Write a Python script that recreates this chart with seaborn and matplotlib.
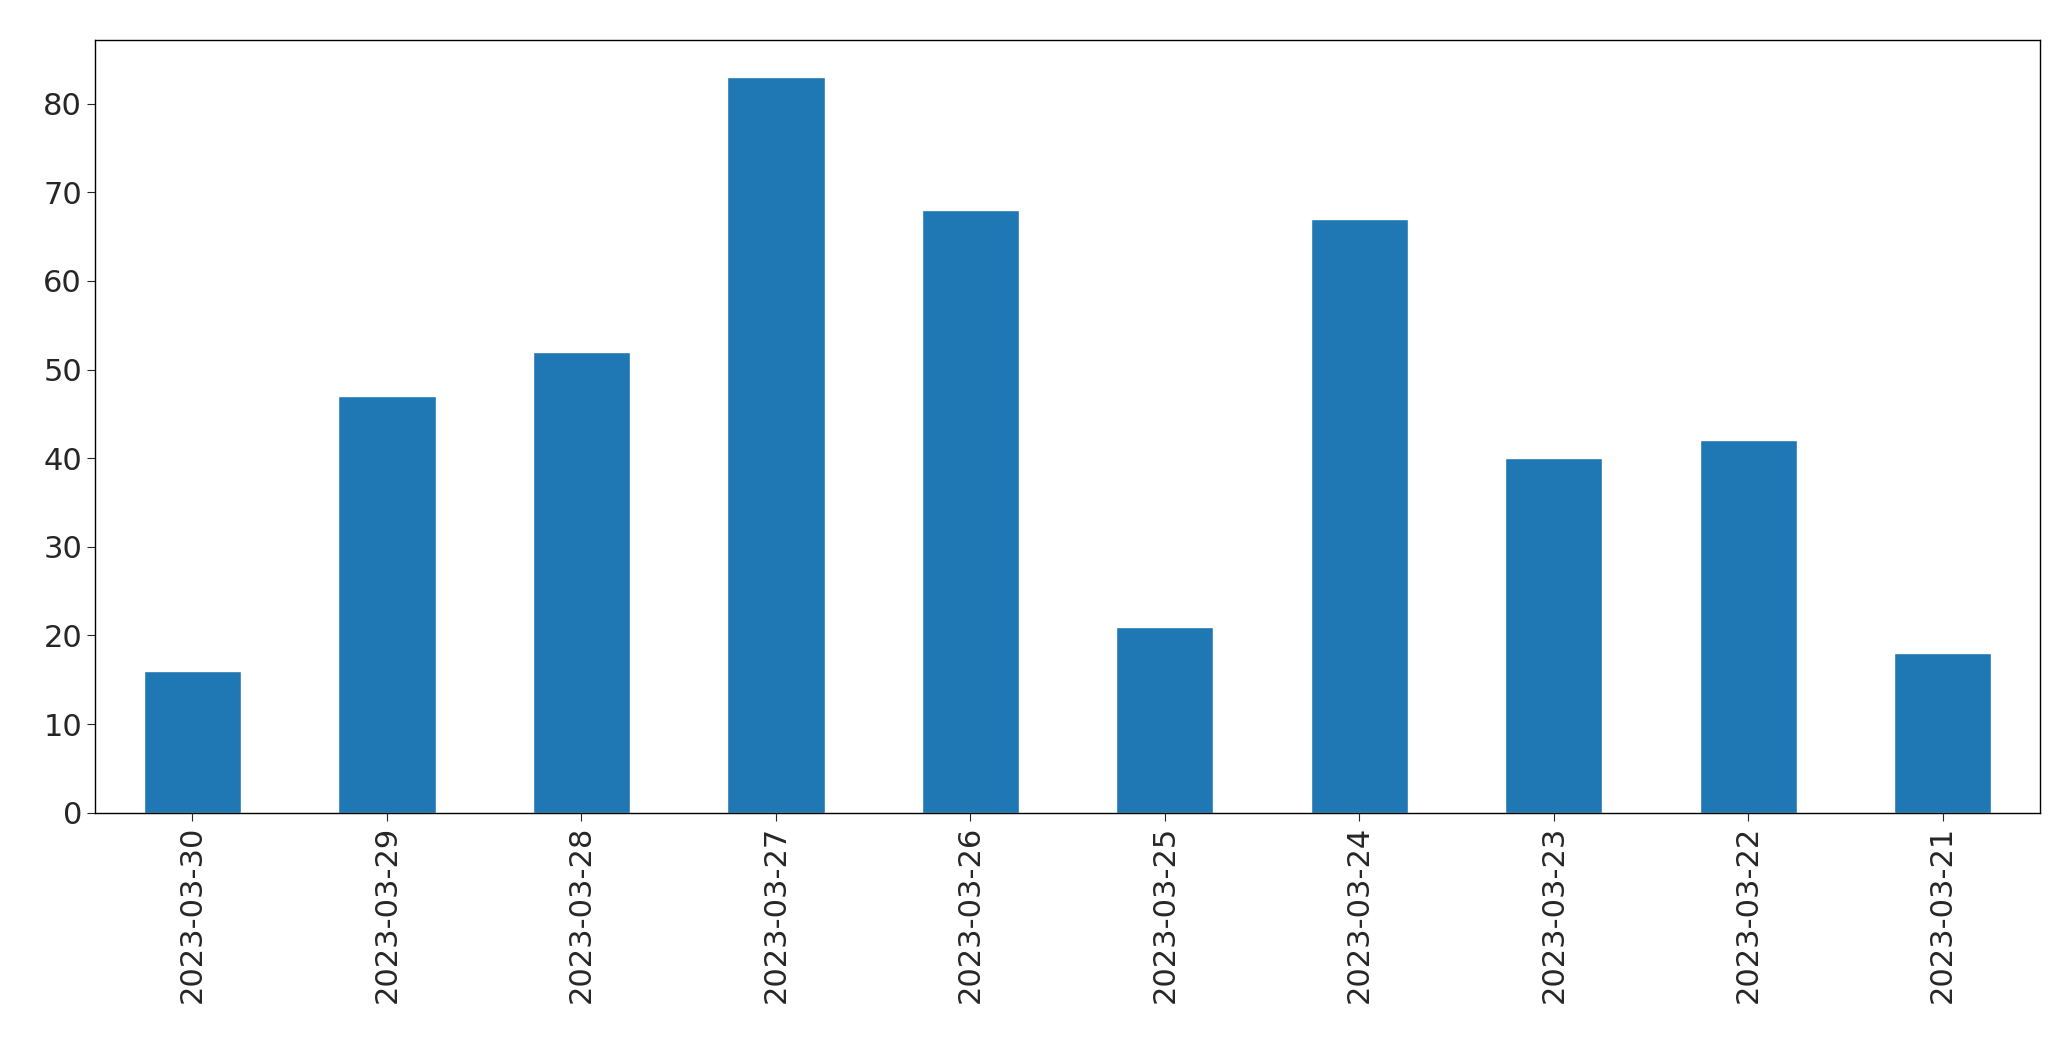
import matplotlib
matplotlib.use("Agg")
import matplotlib.pyplot as plt
import seaborn as sns
import pandas as pd

dates = ["2023-03-30","2023-03-29","2023-03-28","2023-03-27","2023-03-26",
         "2023-03-25","2023-03-24","2023-03-23","2023-03-22","2023-03-21"]
counts = [16, 47, 52, 83, 68, 21, 67, 40, 42, 18]

sns.set_style("ticks")
plt.rcParams['font.family'] = ['DejaVu Sans']
df = pd.DataFrame({"date": dates, "count": counts})

fig = plt.figure(figsize=(20.71, 10.61), dpi=100)
ax = fig.add_axes([0.046, 0.234, 0.939, 0.728])
sns.barplot(data=df, x="date", y="count", order=dates, color="#1f77b4",
            saturation=1, width=0.5, ax=ax)
ax.set_xlim(-0.5, len(dates) - 0.5)
ax.set_ylim(0, max(counts) * 1.05)
ax.set_xlabel("")
ax.set_ylabel("")
ax.tick_params(axis='both', labelsize=22, length=6)
plt.setp(ax.get_xticklabels(), rotation=90)
for s in ax.spines.values():
    s.set_visible(True)
    s.set_linewidth(1)
    s.set_color("black")
fig.savefig("out.png", dpi=100)
